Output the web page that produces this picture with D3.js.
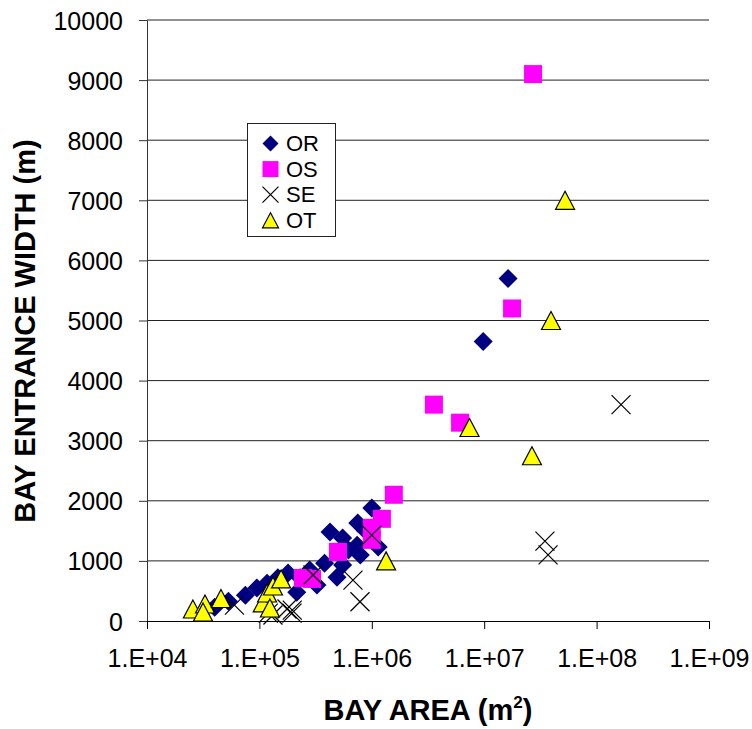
<!DOCTYPE html>
<html>
<head>
<meta charset="utf-8">
<script src="https://cdn.jsdelivr.net/npm/d3@7"></script>
<style>
  html, body { margin: 0; padding: 0; background: #fff; }
  svg { display: block; font-family: Arial, "Liberation Sans", sans-serif; }
</style>
</head>
<body>
<svg id="chart" width="752" height="729"></svg>
<script>
// ---------- DATA ----------
const seriesNames = ["OR", "OS", "SE", "OT"];

const orArea  = [1.63e7, 9.8e6, 1.0e6, 7.5e5, 4.25e5, 5.5e5, 7.4e5, 1.14e6, 7.9e5, 5.5e5, 4.9e5, 3.8e5, 3.25e5, 2.8e5, 2.3e5, 2.15e5, 1.8e5, 1.46e5, 1.17e5, 9.5e4, 7.5e4, 5.3e4, 4.0e4, 6.2e5, 8.8e5];
const orWidth = [5700, 4650, 1880, 1630, 1480, 1380, 1260, 1230, 1100, 930, 730, 960, 600, 850, 720, 480, 800, 720, 630, 550, 430, 330, 230, 1180, 1500];

const osArea  = [2.72e7, 1.77e7, 3.57e6, 6.1e6, 1.57e6, 1.23e6, 1.0e6, 1.0e6, 5.0e5, 2.44e5, 2.94e5];
const osWidth = [9100, 5200, 3600, 3300, 2100, 1700, 1550, 1350, 1150, 715, 700];

const seArea  = [1.65e8, 3.47e7, 3.7e7, 1.0e6, 6.8e5, 7.85e5, 3.0e5, 1.96e5, 6.0e4, 1.2e5, 1.32e5, 1.76e5, 1.95e5];
const seWidth = [3600, 1330, 1100, 1430, 680, 320, 765, 180, 265, 130, 100, 200, 130];

const otArea  = [5.24e7, 3.93e7, 7.4e6, 2.66e7, 1.34e6, 2.56e4, 3.28e4, 3.15e4, 4.55e4, 1.07e5, 1.17e5, 1.32e5, 1.56e5, 1.24e5];
const otWidth = [7000, 5000, 3220, 2750, 1000, 200, 283, 150, 374, 300, 466, 582, 700, 216];

const xTicks = [1e4, 1e5, 1e6, 1e7, 1e8, 1e9];
const xTickLabels = ["1.E+04", "1.E+05", "1.E+06", "1.E+07", "1.E+08", "1.E+09"];
const yTicks = [0, 1000, 2000, 3000, 4000, 5000, 6000, 7000, 8000, 9000, 10000];

const xTitle = "BAY AREA (m";
const yTitle = "BAY ENTRANCE WIDTH (m)";

// ---------- LAYOUT ----------
const svg = d3.select("#chart");
const pLeft = 147, pRight = 709, pTop = 20, pBottom = 621;

const x = d3.scaleLog().domain([1e4, 1e9]).range([pLeft, pRight]);
const y = d3.scaleLinear().domain([0, 10000]).range([pBottom, pTop]);

// gridlines
svg.append("g").selectAll("line")
  .data(yTicks.filter(d => d > 0))
  .join("line")
  .attr("x1", pLeft).attr("x2", pRight)
  .attr("y1", d => y(d)).attr("y2", d => y(d))
  .attr("stroke", "#222").attr("stroke-width", 1);

// Y axis
const yAxis = svg.append("g")
  .attr("transform", `translate(${pLeft},0)`)
  .call(d3.axisLeft(y).tickValues(yTicks).tickFormat(d3.format("d")).tickSize(8).tickPadding(16).tickSizeOuter(0));
yAxis.select(".domain").attr("stroke", "#333");
yAxis.selectAll(".tick line").attr("stroke", "#333");
yAxis.selectAll("text").attr("font-size", 25).attr("font-family", "Arial, 'Liberation Sans', sans-serif").attr("fill", "#000").attr("dy", "0.36em");

// X axis
const xAxis = svg.append("g")
  .attr("transform", `translate(0,${pBottom})`)
  .call(d3.axisBottom(x).tickValues(xTicks).tickFormat((d, i) => xTickLabels[i]).tickSize(8).tickPadding(20).tickSizeOuter(0));
xAxis.select(".domain").attr("stroke", "#000");
xAxis.selectAll(".tick line").attr("stroke", "#000");
xAxis.selectAll("text").attr("font-size", 25).attr("font-family", "Arial, 'Liberation Sans', sans-serif").attr("fill", "#000");

// ---------- MARKERS ----------
function diamond(s) { const h = s / 2; return `M0,${-h}L${h},0L0,${h}L${-h},0Z`; }
function square(s) { const h = s / 2; return `M${-h},${-h}H${h}V${h}H${-h}Z`; }
function triangle(w, hgt) { return `M0,${-hgt/2}L${w/2},${hgt/2}L${-w/2},${hgt/2}Z`; }
function cross(s) { const h = s / 2; return `M${-h},${-h}L${h},${h}M${h},${-h}L${-h},${h}`; }

const styles = {
  OR: { path: diamond(19), fill: "#000080", stroke: "none", sw: 0 },
  OS: { path: square(18), fill: "#FF00FF", stroke: "none", sw: 0 },
  SE: { path: cross(19), fill: "none", stroke: "#000", sw: 1.2 },
  OT: { path: triangle(19, 18), fill: "#FFFF00", stroke: "#000", sw: 1.2 }
};
const legendStyles = {
  OR: diamond(16), OS: square(16), SE: cross(16), OT: triangle(16, 15)
};

const seriesData = {
  OR: orArea.map((a, i) => [a, orWidth[i]]),
  OS: osArea.map((a, i) => [a, osWidth[i]]),
  SE: seArea.map((a, i) => [a, seWidth[i]]),
  OT: otArea.map((a, i) => [a, otWidth[i]])
};

seriesNames.forEach(name => {
  const st = styles[name];
  svg.append("g").selectAll("path")
    .data(seriesData[name])
    .join("path")
    .attr("transform", d => `translate(${x(d[0])},${y(d[1])})`)
    .attr("d", st.path)
    .attr("fill", st.fill)
    .attr("stroke", st.stroke)
    .attr("stroke-width", st.sw);
});

// ---------- LEGEND ----------
const lg = svg.append("g");
lg.append("rect")
  .attr("x", 247.5).attr("y", 123.5).attr("width", 88).attr("height", 113)
  .attr("fill", "#fff").attr("stroke", "#222").attr("stroke-width", 1);
seriesNames.forEach((name, i) => {
  const cy = 143.5 + i * 25.6;
  const st = styles[name];
  lg.append("path")
    .attr("transform", `translate(270.5,${cy})`)
    .attr("d", legendStyles[name])
    .attr("fill", st.fill).attr("stroke", st.stroke).attr("stroke-width", st.sw);
  lg.append("text")
    .attr("x", 286).attr("y", cy + 7.5)
    .attr("font-size", 22).attr("fill", "#000")
    .text(name);
});

// ---------- TITLES ----------
const xt = svg.append("text")
  .attr("x", 428).attr("y", 720)
  .attr("text-anchor", "middle")
  .attr("font-size", 29).attr("font-weight", "bold").attr("fill", "#000");
xt.append("tspan").text(xTitle);
xt.append("tspan").attr("font-size", 17).attr("dy", -12).text("2");
xt.append("tspan").attr("dy", 12).text(")");

svg.append("text")
  .attr("transform", "translate(35,331) rotate(-90)")
  .attr("text-anchor", "middle")
  .attr("font-size", 29).attr("font-weight", "bold").attr("fill", "#000")
  .text(yTitle);
</script>
</body>
</html>
